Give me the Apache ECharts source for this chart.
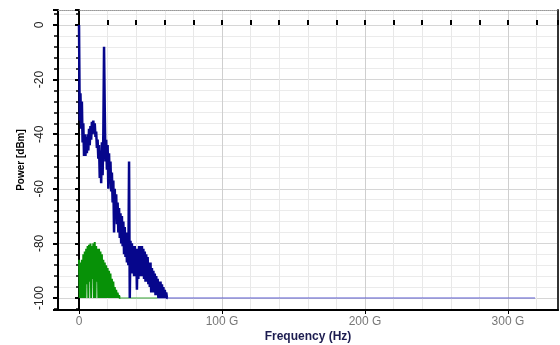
<!DOCTYPE html>
<html>
<head>
<meta charset="utf-8">
<script src="https://cdn.jsdelivr.net/npm/echarts@6/dist/echarts.min.js"></script>
<style>
  html, body { margin: 0; padding: 0; background: #fff; }
  #chart { width: 560px; height: 345px; }
</style>
</head>
<body>
<div id="chart"></div>
<script>
// spectrum samples, one value every FREQ_STEP Hz starting at 0 Hz
const FREQ_STEP = 0.5
const bluePower = [
  0, -35, -25, -38, -28, -43, -36, -48, -40, -48,
  -41, -47, -40, -46, -38, -44, -37, -42, -35.5, -40,
  -35, -39, -36, -41, -39, -45, -42, -49, -44, -56,
  -46, -58, -43, -55, -40, -8, -31, -50, -42, -53,
  -44, -60, -47, -58, -50, -61, -54, -65, -57, -76,
  -60, -71, -62, -73, -65, -76, -67, -78, -69, -80,
  -70, -81, -72, -84, -74, -85, -76, -87, -78, -88,
  -50, -100, -79, -90, -80, -91, -81, -92, -81, -92,
  -82, -97, -82, -93, -81, -92, -81, -92, -81, -92,
  -82, -93, -83, -94, -84, -94, -85, -95, -87, -96,
  -87, -98, -89, -98, -90, -98, -91, -99, -92, -99,
  -93, -100, -94, -100, -94, -100, -95, -100, -96, -100,
  -97, -100, -98, -100, -100
]
const greenPower = [
  -86, -100, -87, -100, -86, -100, -84, -100, -83, -100,
  -82, -95, -81, -100, -80.5, -94, -80, -100, -81, -93,
  -80, -100, -79.5, -100, -81, -94, -82, -100, -82, -100,
  -83, -100, -84, -100, -86, -100, -87, -100, -88, -100,
  -89, -100, -90, -100, -91, -100, -93, -100, -94, -100,
  -96, -100, -97, -100, -98, -100, -99, -100, -100
]
// flat noise floor after the signal dies out
const blueTailFreq = [55, 319]
const blueTailPower = [-100, -100]
const greenTailFreq = [29, 55]
const greenTailPower = [-100, -100]
const xLabels = { 0: '0', 100: '100 G', 200: '200 G', 300: '300 G' }

const X_MIN = -14.7
const X_MAX = 335
const Y_MIN = -104.4
const Y_MAX = 5.5

const chart = echarts.init(document.getElementById('chart'))

const sampled = arr => arr.map((v, i) => [i * FREQ_STEP, v])
const pairs = (xs, ys) => xs.map((x, i) => [x, ys[i]])

const font = 'Liberation Sans, Arial, sans-serif'

chart.setOption({
  animation: false,
  backgroundColor: '#ffffff',
  grid: { left: 58, right: 2, top: 10, bottom: 35, containLabel: false, outerBoundsMode: 'none' },
  xAxis: [
    {
      type: 'value',
      position: 'bottom',
      min: X_MIN,
      max: X_MAX,
      splitNumber: 3,
      name: 'Frequency (Hz)',
      nameLocation: 'middle',
      nameGap: 21,
      nameMoveOverlap: false,
      nameTextStyle: { color: '#1c1c50', fontSize: 12, fontWeight: 'bold', fontFamily: font },
      axisLine: { onZero: false, lineStyle: { color: '#000', width: 2 } },
      axisTick: { show: true, length: 4, lineStyle: { color: '#000' } },
      axisLabel: {
        color: '#777',
        fontSize: 12,
        fontFamily: font,
        margin: 6,
        showMinLabel: false,
        showMaxLabel: false,
        formatter: v => (xLabels[v] !== undefined ? xLabels[v] : '')
      },
      splitLine: { show: true, lineStyle: { color: '#cfcfcf', width: 1 } },
      minorTick: { show: false, splitNumber: 5 },
      minorSplitLine: { show: true, lineStyle: { color: '#e8e8e8', width: 1 } }
    },
    {
      // dotted top frame
      type: 'value',
      position: 'top',
      min: X_MIN,
      max: X_MAX,
      axisLine: { show: true, onZero: false, lineStyle: { color: '#999', width: 1, type: 'dotted' } },
      axisTick: { show: false },
      axisLabel: { show: false },
      splitLine: { show: false }
    },
    {
      // small tick marks just under the top frame
      type: 'value',
      position: 'top',
      offset: -15,
      min: X_MIN,
      max: X_MAX,
      splitNumber: 3,
      axisLine: { show: false, onZero: false },
      axisTick: { show: true, length: 5, lineStyle: { color: '#000', width: 2 } },
      minorTick: { show: true, splitNumber: 5, length: 5, lineStyle: { color: '#000', width: 2 } },
      axisLabel: { show: false },
      splitLine: { show: false }
    }
  ],
  yAxis: [
    {
      type: 'value',
      position: 'left',
      min: Y_MIN,
      max: Y_MAX,
      name: 'Power [dBm]',
      nameLocation: 'middle',
      nameGap: 32,
      nameRotate: 90,
      nameMoveOverlap: false,
      nameTextStyle: { color: '#000', fontSize: 10, fontWeight: 'bold', fontFamily: font },
      axisLine: { show: true, onZero: false, lineStyle: { color: '#000', width: 2 } },
      axisTick: { show: true, length: 5, lineStyle: { color: '#000', width: 2 } },
      minorTick: { show: true, splitNumber: 5, length: 4, lineStyle: { color: '#000', width: 1.5 } },
      axisLabel: {
        color: '#222',
        fontSize: 12,
        fontFamily: font,
        rotate: 90,
        margin: 12,
        showMinLabel: false,
        showMaxLabel: false
      },
      splitLine: { show: true, lineStyle: { color: '#d6d6d6', width: 1 } },
      minorSplitLine: { show: true, lineStyle: { color: '#ebebeb', width: 1 } }
    },
    {
      // axis drawn at 0 Hz
      type: 'value',
      position: 'left',
      min: Y_MIN,
      max: Y_MAX,
      axisLine: { show: true, onZero: true, onZeroAxisIndex: 0, lineStyle: { color: '#000', width: 2 } },
      axisTick: { show: true, length: 4, lineStyle: { color: '#000', width: 2 } },
      minorTick: { show: true, splitNumber: 5, length: 3, lineStyle: { color: '#000', width: 1.5 } },
      axisLabel: { show: false },
      splitLine: { show: false }
    },
    {
      // right frame
      type: 'value',
      position: 'right',
      min: Y_MIN,
      max: Y_MAX,
      axisLine: { show: true, onZero: false, lineStyle: { color: '#333', width: 2 } },
      axisTick: { show: false },
      axisLabel: { show: false },
      splitLine: { show: false }
    }
  ],
  series: [
    {
      name: 'ref',
      type: 'line',
      data: sampled(greenPower),
      showSymbol: false,
      lineStyle: { color: '#079107', width: 2 },
      z: 2
    },
    {
      name: 'ref floor',
      type: 'line',
      data: pairs(greenTailFreq, greenTailPower),
      showSymbol: false,
      lineStyle: { color: '#3aa83a', width: 1 },
      z: 2
    },
    {
      name: 'floor',
      type: 'line',
      data: pairs(blueTailFreq, blueTailPower),
      showSymbol: false,
      lineStyle: { color: '#5c5cd0', width: 1 },
      z: 3
    },
    {
      name: 'signal',
      type: 'line',
      data: sampled(bluePower),
      showSymbol: false,
      lineStyle: { color: '#06068c', width: 2.5 },
      z: 4
    }
  ]
})

window.addEventListener('resize', () => chart.resize())
</script>
</body>
</html>
